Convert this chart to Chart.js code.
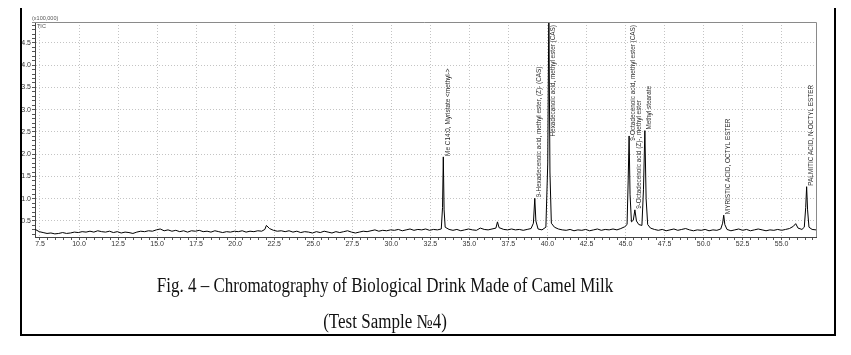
<!DOCTYPE html>
<html>
<head>
<meta charset="utf-8">
<script src="https://cdn.jsdelivr.net/npm/chart.js@4.4.1/dist/chart.umd.min.js"></script>
<style>
  body { margin: 0; background: #fff; }
  #wrap { position: relative; width: 851px; height: 355px; overflow: hidden; }
  #chart { position: absolute; left: 0; top: 0; }
  .cap {
    position: absolute; left: 0; width: 770px; text-align: center;
    font-family: "Liberation Serif", "Times New Roman", serif;
    font-size: 20px; line-height: 20px; color: #111; white-space: nowrap;
    transform: scaleX(0.85); transform-origin: 385px 0;
  }
</style>
</head>
<body>
<div id="wrap">
  <canvas id="chart" width="851" height="355"></canvas>
  <div class="cap" style="top:275px">Fig. 4 – Chromatography of Biological Drink Made of Camel Milk</div>
  <div class="cap" style="top:311px">(Test Sample №4)</div>
</div>
<script>
// retention time (min) and TIC intensity (x100,000)
const retentionTimes = [
  7.20, 7.45, 7.70, 7.95, 8.20, 8.45, 8.70, 8.95, 9.20, 9.45,
  9.70, 9.95, 10.20, 10.45, 10.70, 10.95, 11.20, 11.45, 11.70, 11.95,
  12.20, 12.45, 12.70, 12.95, 13.20, 13.45, 13.70, 13.95, 14.20, 14.45,
  14.70, 14.95, 15.20, 15.45, 15.70, 15.95, 16.20, 16.45, 16.70, 16.95,
  17.20, 17.45, 17.70, 17.95, 18.20, 18.45, 18.70, 18.95, 19.20, 19.45,
  19.70, 19.95, 20.20, 20.45, 20.70, 20.95, 21.20, 21.45, 21.70, 21.90,
  22.00, 22.20, 22.45, 22.70, 22.95, 23.20, 23.45, 23.70, 23.95, 24.20,
  24.45, 24.70, 24.95, 25.20, 25.45, 25.70, 25.95, 26.20, 26.45, 26.70,
  26.95, 27.20, 27.45, 27.70, 27.95, 28.20, 28.45, 28.70, 28.95, 29.20,
  29.45, 29.70, 29.95, 30.20, 30.45, 30.70, 30.95, 31.20, 31.45, 31.70,
  31.95, 32.20, 32.45, 32.70, 32.95, 33.20, 33.28, 33.33, 33.38, 33.45,
  33.70, 33.95, 34.20, 34.45, 34.70, 34.95, 35.20, 35.45, 35.70, 35.95,
  36.20, 36.45, 36.70, 36.80, 36.90, 37.20, 37.45, 37.70, 37.95, 38.20,
  38.45, 38.70, 38.95, 39.10, 39.19, 39.26, 39.40, 39.65, 39.90, 40.02,
  40.09, 40.16, 40.25, 40.45, 40.70, 40.95, 41.20, 41.45, 41.70, 41.95,
  42.20, 42.45, 42.70, 42.95, 43.20, 43.45, 43.70, 43.95, 44.20, 44.45,
  44.70, 44.95, 45.10, 45.17, 45.23, 45.29, 45.38, 45.50, 45.60, 45.70,
  45.85, 46.05, 46.15, 46.24, 46.32, 46.42, 46.60, 46.85, 47.10, 47.35,
  47.60, 47.85, 48.10, 48.35, 48.60, 48.85, 49.10, 49.35, 49.60, 49.85,
  50.10, 50.35, 50.60, 50.85, 51.10, 51.22, 51.29, 51.36, 51.50, 51.75,
  52.00, 52.25, 52.50, 52.75, 53.00, 53.25, 53.50, 53.75, 54.00, 54.25,
  54.50, 54.75, 55.00, 55.25, 55.50, 55.75, 55.90, 56.05, 56.30, 56.45,
  56.54, 56.60, 56.66, 56.75, 56.95, 57.20
];
const intensities = [
  0.31, 0.26, 0.24, 0.22, 0.23, 0.21, 0.22, 0.24, 0.22, 0.23,
  0.25, 0.24, 0.26, 0.25, 0.27, 0.25, 0.28, 0.26, 0.25, 0.27,
  0.24, 0.26, 0.23, 0.25, 0.24, 0.22, 0.25, 0.27, 0.26, 0.28,
  0.27, 0.30, 0.32, 0.28, 0.30, 0.27, 0.29, 0.26, 0.28, 0.25,
  0.28, 0.27, 0.29, 0.26, 0.27, 0.25, 0.28, 0.26, 0.24, 0.26,
  0.25, 0.27, 0.26, 0.28, 0.25, 0.27, 0.26, 0.28, 0.27, 0.31,
  0.40, 0.33, 0.29, 0.27, 0.28, 0.26, 0.28, 0.25, 0.27, 0.24,
  0.26, 0.25, 0.23, 0.26, 0.24, 0.27, 0.25, 0.23, 0.26, 0.24,
  0.26, 0.28, 0.25, 0.23, 0.25, 0.27, 0.26, 0.28, 0.30, 0.27,
  0.29, 0.28, 0.30, 0.29, 0.31, 0.28, 0.30, 0.32, 0.29, 0.31,
  0.30, 0.32, 0.29, 0.31, 0.30, 0.32, 0.80, 1.94, 0.75, 0.36,
  0.31, 0.29, 0.31, 0.28, 0.30, 0.32, 0.30, 0.29, 0.34, 0.31,
  0.30, 0.32, 0.34, 0.48, 0.35, 0.31, 0.30, 0.32, 0.30, 0.31,
  0.29, 0.31, 0.33, 0.45, 1.01, 0.50, 0.32, 0.30, 0.36, 1.80,
  5.30, 1.60, 0.45, 0.36, 0.32, 0.30, 0.29, 0.31, 0.28, 0.30,
  0.29, 0.31, 0.28, 0.30, 0.32, 0.29, 0.31, 0.30, 0.32, 0.30,
  0.33, 0.37, 0.42, 1.40, 2.41, 1.10, 0.48, 0.52, 0.75, 0.50,
  0.42, 0.40, 1.20, 2.53, 1.00, 0.42, 0.34, 0.31, 0.29, 0.31,
  0.28, 0.30, 0.32, 0.29, 0.31, 0.33, 0.30, 0.28, 0.30, 0.29,
  0.31, 0.28, 0.30, 0.29, 0.32, 0.45, 0.63, 0.42, 0.31, 0.28,
  0.30, 0.32, 0.29, 0.31, 0.28, 0.30, 0.32, 0.30, 0.28, 0.30,
  0.29, 0.31, 0.29, 0.31, 0.33, 0.38, 0.44, 0.34, 0.31, 0.36,
  0.80, 1.27, 0.75, 0.36, 0.31, 0.30
];

// identified peaks
const peakTimes = [33.33, 39.19, 40.09, 45.23, 45.60, 46.24, 51.29, 56.60];
const peakNames = [
  'Me C14:0, Myristate <methyl->',
  '9-Hexadecenoic acid, methyl ester, (Z)- (CAS)',
  'Hexadecanoic acid, methyl ester (CAS)',
  '9-Octadecenoic acid, methyl ester (CAS)',
  '9-Octadecenoic acid (Z)-, methyl ester',
  'Methyl stearate',
  'MYRISTIC ACID, OCTYL ESTER',
  'PALMITIC ACID, N-OCTYL ESTER'
];

const xTickLabels = [7.5, 10.0, 12.5, 15.0, 17.5, 20.0, 22.5, 25.0, 27.5, 30.0, 32.5, 35.0, 37.5, 40.0, 42.5, 45.0, 47.5, 50.0, 52.5, 55.0];
const yTickLabels = [0.5, 1.0, 1.5, 2.0, 2.5, 3.0, 3.5, 4.0, 4.5];

const isMajor = (list, v) => list.some(l => Math.abs(l - v) < 1e-6);

// minor tick marks: every 0.5 min on x, every 0.1 on y
const xTicks = [];
for (let i = 15; i <= 114; i++) xTicks.push(i / 2);
const yTicks = [];
for (let i = 2; i <= 49; i++) yTicks.push(i / 10);

const tickFont = { family: '"Liberation Sans", Arial, sans-serif', size: 7 };

const decorPlugin = {
  id: 'decor',
  afterDraw(chart) {
    const { ctx, chartArea: a, scales } = chart;
    ctx.save();

    // top and right edge of the plot box
    ctx.strokeStyle = '#8a8a8a';
    ctx.lineWidth = 1;
    ctx.beginPath();
    ctx.moveTo(32, a.top + 0.5);
    ctx.lineTo(a.right + 0.5, a.top + 0.5);
    ctx.lineTo(a.right + 0.5, a.bottom);
    ctx.stroke();

    ctx.fillStyle = '#555';
    ctx.font = '5.5px "Liberation Sans", Arial, sans-serif';
    ctx.textBaseline = 'alphabetic';
    ctx.textAlign = 'left';
    ctx.fillText('(x100,000)', 32, a.top - 2);
    ctx.fillText('TIC', 37, a.top + 6);

    // peak names, rotated, just above each apex
    ctx.font = '6.4px "Liberation Sans", Arial, sans-serif';
    ctx.fillStyle = '#2a2a2a';
    ctx.textBaseline = 'middle';
    peakTimes.forEach((t, i) => {
      const idx = retentionTimes.indexOf(t);
      const px = scales.x.getPixelForValue(t) + 4.5;
      let py = scales.y.getPixelForValue(intensities[idx]) - 1;
      const len = ctx.measureText(peakNames[i]).width;
      if (py - len < a.top + 3) py = a.top + 3 + len;
      ctx.save();
      ctx.translate(px, py);
      ctx.rotate(-Math.PI / 2);
      ctx.fillText(peakNames[i], 0, 0);
      ctx.restore();
    });

    // page frame
    ctx.strokeStyle = '#000';
    ctx.lineWidth = 2;
    ctx.beginPath();
    ctx.moveTo(21, 8);
    ctx.lineTo(21, 335);
    ctx.lineTo(835, 335);
    ctx.lineTo(835, 8);
    ctx.stroke();
    ctx.restore();
  }
};

const points = retentionTimes.map((t, i) => ({ x: t, y: intensities[i] }));

new Chart(document.getElementById('chart'), {
  type: 'line',
  data: {
    datasets: [{
      data: points,
      borderColor: '#000',
      borderWidth: 1,
      pointRadius: 0,
      tension: 0,
      fill: false
    }]
  },
  options: {
    responsive: false,
    animation: false,
    layout: { padding: { left: 0, right: 35, top: 22, bottom: 98 } },
    plugins: { legend: { display: false }, tooltip: { enabled: false } },
    scales: {
      x: {
        type: 'linear',
        min: 7.18,
        max: 57.2,
        afterBuildTicks: s => { s.ticks = xTicks.map(v => ({ value: v })); },
        afterFit: s => { s.height = 20; },
        ticks: {
          autoSkip: false,
          maxRotation: 0,
          padding: 0,
          font: tickFont,
          color: '#333',
          callback: v => isMajor(xTickLabels, v) ? v.toFixed(1) : ''
        },
        grid: {
          color: c => (c.tick && isMajor(xTickLabels, c.tick.value)) ? '#c4c4c4' : 'rgba(0,0,0,0)',
          tickColor: '#555',
          tickLength: 3
        },
        border: { color: '#444', dash: [1, 2] }
      },
      y: {
        min: 0.14,
        max: 4.97,
        afterBuildTicks: s => { s.ticks = yTicks.map(v => ({ value: v })); },
        afterFit: s => { s.width = 35; },
        ticks: {
          autoSkip: false,
          padding: 1,
          font: tickFont,
          color: '#333',
          callback: v => isMajor(yTickLabels, v) ? v.toFixed(1) : ''
        },
        grid: {
          color: c => (c.tick && isMajor(yTickLabels, c.tick.value)) ? '#c4c4c4' : 'rgba(0,0,0,0)',
          tickColor: '#555',
          tickLength: 3
        },
        border: { color: '#444', dash: [1, 2] }
      }
    }
  },
  plugins: [decorPlugin]
});
</script>
</body>
</html>
